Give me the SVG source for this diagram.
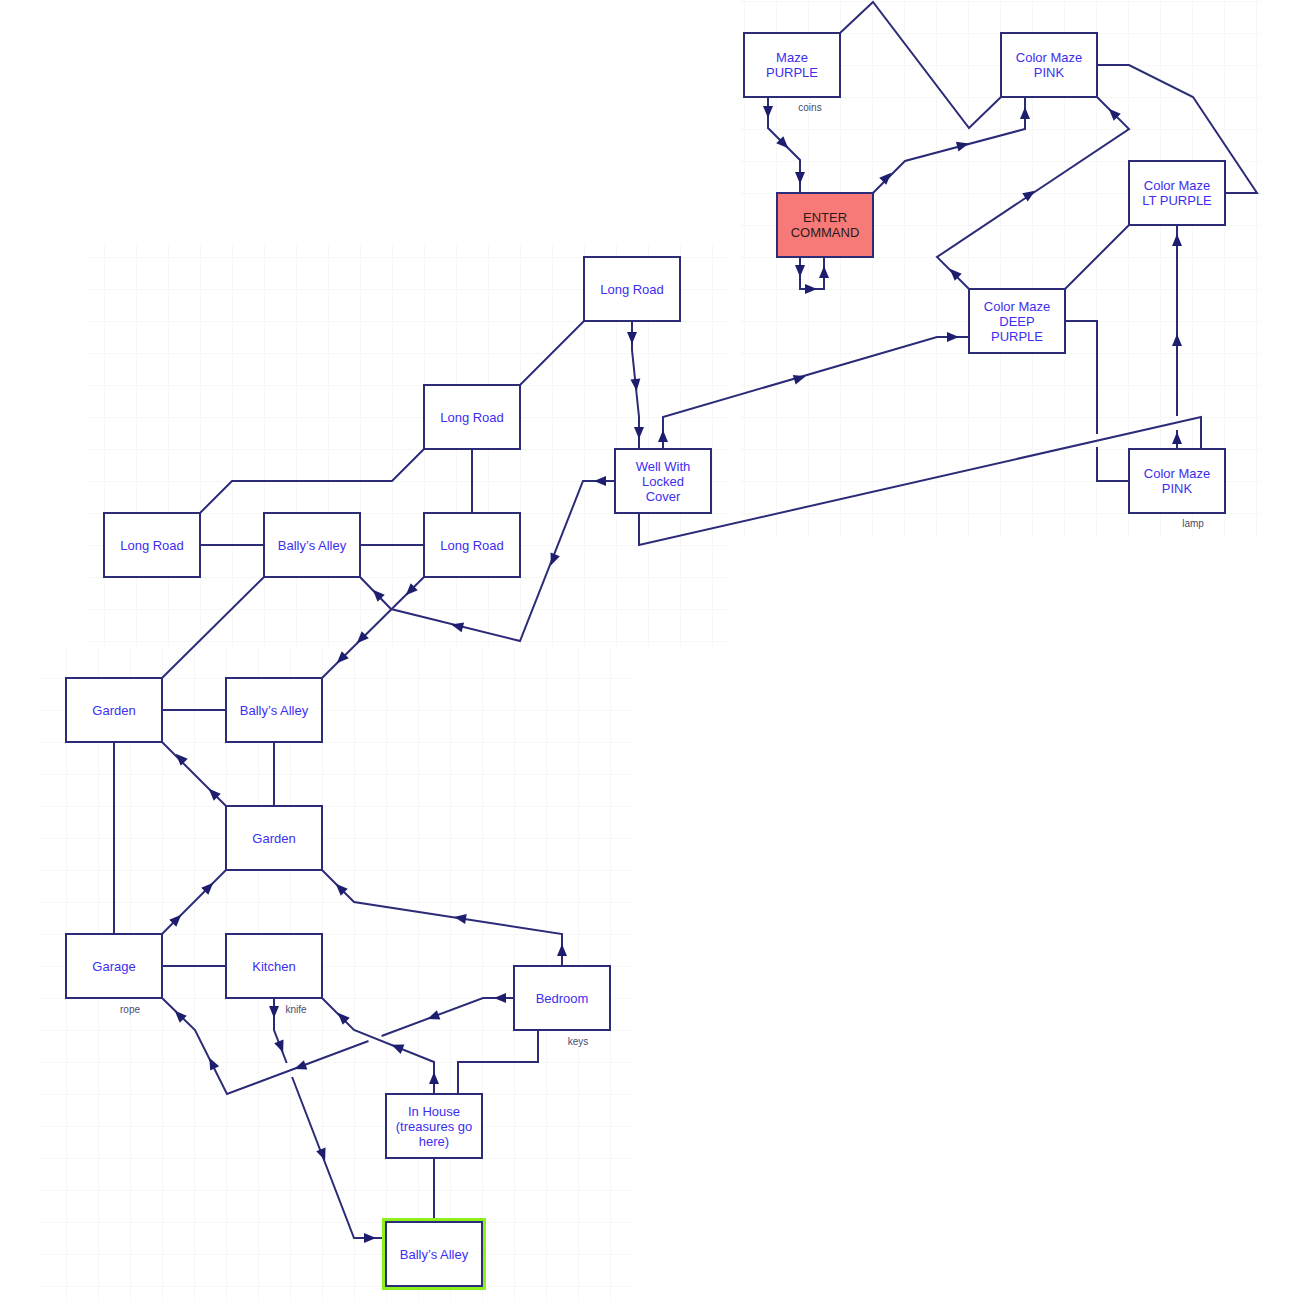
<svg xmlns="http://www.w3.org/2000/svg" xmlns:xlink="http://www.w3.org/1999/xlink" width="1304" height="1308" viewBox="0 0 1304 1308">
<style>
.box{fill:#ffffff;stroke:#2b2b78;stroke-width:2}
.start{fill:#f87a78;stroke:#2b2b78;stroke-width:2}
.t{font-family:"Liberation Sans",Arial,sans-serif;font-size:13px;fill:#3d2ef0;text-anchor:middle}
.td{font-family:"Liberation Sans",Arial,sans-serif;font-size:13px;fill:#2a1a1a;text-anchor:middle}
.lbl{font-family:"Liberation Sans",Arial,sans-serif;font-size:10px;fill:#4a4a6e;text-anchor:middle}
.c{fill:none;stroke:#2b2b78;stroke-width:2;stroke-linejoin:miter}
.a{fill:#1e1e6e}
</style>
<defs>
<pattern id="g1" patternUnits="userSpaceOnUse" x="8" y="1" width="32" height="32"><path d="M32,0 L0,0 L0,32" fill="none" stroke="#efefef" stroke-width="1"/></pattern>
<pattern id="g2" patternUnits="userSpaceOnUse" x="2" y="6" width="32" height="32"><path d="M32,0 L0,0 L0,32" fill="none" stroke="#efefef" stroke-width="1"/></pattern>
<path id="ah" d="M-6,-5 L6,0 L-6,5 Z"/>
</defs>
<rect width="1304" height="1308" fill="#ffffff"/>
<rect x="740" y="0" width="522" height="538" fill="url(#g1)"/>
<rect x="88" y="245" width="640" height="405" fill="url(#g1)"/>
<rect x="40" y="648" width="590" height="652" fill="url(#g2)"/>

<g id="connectors">
<path class="c" d="M840,33 L873,2 L969,128 L1001,97"/>
<path class="c" d="M768,97 L768,128 L800,160 L800,193"/>
<path class="c" d="M873,193 L905,161 L1025,129 L1025,97"/>
<path class="c" d="M800,257 L800,289 L824,289 L824,257"/>
<path class="c" d="M1097,65 L1129,65 L1193,97 L1257,193 L1225,193"/>
<path class="c" d="M969,289 L937,257 L1129,129 L1097,97"/>
<path class="c" d="M1065,289 L1129,225"/>
<path class="c" d="M1177,449 L1177,430 M1177,416 L1177,225"/>
<path class="c" d="M1065,321 L1097,321 L1097,434 M1097,447 L1097,481 L1129,481"/>
<path class="c" d="M639,513 L639,545 L1201,417 L1201,449"/>
<path class="c" d="M663,449 L663,417 L937,337 L969,337"/>
<path class="c" d="M632,321 L632,350 L639,417 L639,449"/>
<path class="c" d="M584,321 L520,385"/>
<path class="c" d="M472,449 L472,513"/>
<path class="c" d="M424,449 L392,481 L232,481 L200,513"/>
<path class="c" d="M200,545 L264,545"/>
<path class="c" d="M360,545 L424,545"/>
<path class="c" d="M264,577 L162,678"/>
<path class="c" d="M615,481 L583,481 L520,641 L391,609 L360,577"/>
<path class="c" d="M424,577 L322,678"/>
<path class="c" d="M162,710 L226,710"/>
<path class="c" d="M114,742 L114,934"/>
<path class="c" d="M274,742 L274,806"/>
<path class="c" d="M226,806 L162,742"/>
<path class="c" d="M162,934 L226,870"/>
<path class="c" d="M162,966 L226,966"/>
<path class="c" d="M562,966 L562,934 L354,902 L322,870"/>
<path class="c" d="M514,998 L483,998 L381.6,1036 M368.5,1041 L227,1094 L195,1030 L162,998"/>
<path class="c" d="M274,998 L274,1030 L286.7,1063 M292.1,1077 L354,1238 L386,1238"/>
<path class="c" d="M434,1094 L434,1062 L354,1030 L322,998"/>
<path class="c" d="M458,1094 L458,1062 L538,1062 L538,1030"/>
<path class="c" d="M434,1158 L434,1222"/>

<g class="a">
<use xlink:href="#ah" transform="translate(768,112) rotate(90)"/>
<use xlink:href="#ah" transform="translate(784,144) rotate(45)"/>
<use xlink:href="#ah" transform="translate(800,178) rotate(90)"/>
<use xlink:href="#ah" transform="translate(887,177) rotate(-45)"/>
<use xlink:href="#ah" transform="translate(963,145) rotate(-15)"/>
<use xlink:href="#ah" transform="translate(1025,113) rotate(-90)"/>
<use xlink:href="#ah" transform="translate(800,271) rotate(90)"/>
<use xlink:href="#ah" transform="translate(811,289) rotate(0)"/>
<use xlink:href="#ah" transform="translate(824,272) rotate(-90)"/>
<use xlink:href="#ah" transform="translate(1113,113) rotate(-135)"/>
<use xlink:href="#ah" transform="translate(1030,194) rotate(-33.7)"/>
<use xlink:href="#ah" transform="translate(954,273) rotate(-135)"/>
<use xlink:href="#ah" transform="translate(1177,240) rotate(-90)"/>
<use xlink:href="#ah" transform="translate(1177,340) rotate(-90)"/>
<use xlink:href="#ah" transform="translate(1177,438) rotate(-90)"/>
<use xlink:href="#ah" transform="translate(663,436) rotate(-90)"/>
<use xlink:href="#ah" transform="translate(800,378) rotate(-16.3)"/>
<use xlink:href="#ah" transform="translate(953,337) rotate(0)"/>
<use xlink:href="#ah" transform="translate(632,338) rotate(90)"/>
<use xlink:href="#ah" transform="translate(636,385) rotate(84)"/>
<use xlink:href="#ah" transform="translate(639,433) rotate(90)"/>
<use xlink:href="#ah" transform="translate(600,481) rotate(180)"/>
<use xlink:href="#ah" transform="translate(553,560) rotate(111.5)"/>
<use xlink:href="#ah" transform="translate(457,626) rotate(-166)"/>
<use xlink:href="#ah" transform="translate(377,594) rotate(-134)"/>
<use xlink:href="#ah" transform="translate(410,591) rotate(135)"/>
<use xlink:href="#ah" transform="translate(361,639) rotate(135)"/>
<use xlink:href="#ah" transform="translate(341,659) rotate(135)"/>
<use xlink:href="#ah" transform="translate(213,793) rotate(-135)"/>
<use xlink:href="#ah" transform="translate(180,758) rotate(-135)"/>
<use xlink:href="#ah" transform="translate(177,919) rotate(-45)"/>
<use xlink:href="#ah" transform="translate(209,887) rotate(-45)"/>
<use xlink:href="#ah" transform="translate(562,950) rotate(-90)"/>
<use xlink:href="#ah" transform="translate(460,918) rotate(-171)"/>
<use xlink:href="#ah" transform="translate(340,888) rotate(-135)"/>
<use xlink:href="#ah" transform="translate(500,998) rotate(180)"/>
<use xlink:href="#ah" transform="translate(433,1017) rotate(159.4)"/>
<use xlink:href="#ah" transform="translate(300,1067) rotate(159.4)"/>
<use xlink:href="#ah" transform="translate(212,1063) rotate(-116.6)"/>
<use xlink:href="#ah" transform="translate(179,1015) rotate(-135)"/>
<use xlink:href="#ah" transform="translate(274,1012) rotate(90)"/>
<use xlink:href="#ah" transform="translate(281,1047) rotate(69)"/>
<use xlink:href="#ah" transform="translate(323,1155) rotate(69)"/>
<use xlink:href="#ah" transform="translate(370,1238) rotate(0)"/>
<use xlink:href="#ah" transform="translate(434,1078) rotate(-90)"/>
<use xlink:href="#ah" transform="translate(397,1047) rotate(-158)"/>
<use xlink:href="#ah" transform="translate(342,1017) rotate(-135)"/>
</g>
</g>

<g id="n1"><rect class="box" x="744" y="33" width="96" height="64"/><text class="t" x="792" y="62">Maze</text><text class="t" x="792" y="77">PURPLE</text><text class="lbl" x="810" y="111">coins</text></g>
<g id="n2"><rect class="box" x="1001" y="33" width="96" height="64"/><text class="t" x="1049" y="62">Color Maze</text><text class="t" x="1049" y="77">PINK</text></g>
<g id="n3"><rect class="start" x="777" y="193" width="96" height="64"/><text class="td" x="825" y="222">ENTER</text><text class="td" x="825" y="237">COMMAND</text></g>
<g id="n4"><rect class="box" x="1129" y="161" width="96" height="64"/><text class="t" x="1177" y="190">Color Maze</text><text class="t" x="1177" y="205">LT PURPLE</text></g>
<g id="n5"><rect class="box" x="969" y="289" width="96" height="64"/><text class="t" x="1017" y="311">Color Maze</text><text class="t" x="1017" y="326">DEEP</text><text class="t" x="1017" y="341">PURPLE</text></g>
<g id="n6"><rect class="box" x="1129" y="449" width="96" height="64"/><text class="t" x="1177" y="478">Color Maze</text><text class="t" x="1177" y="493">PINK</text><text class="lbl" x="1193" y="527">lamp</text></g>
<g id="n7"><rect class="box" x="584" y="257" width="96" height="64"/><text class="t" x="632" y="294">Long Road</text></g>
<g id="n8"><rect class="box" x="424" y="385" width="96" height="64"/><text class="t" x="472" y="422">Long Road</text></g>
<g id="n9"><rect class="box" x="615" y="449" width="96" height="64"/><text class="t" x="663" y="471">Well With</text><text class="t" x="663" y="486">Locked</text><text class="t" x="663" y="501">Cover</text></g>
<g id="n10"><rect class="box" x="104" y="513" width="96" height="64"/><text class="t" x="152" y="550">Long Road</text></g>
<g id="n11"><rect class="box" x="264" y="513" width="96" height="64"/><text class="t" x="312" y="550">Bally’s Alley</text></g>
<g id="n12"><rect class="box" x="424" y="513" width="96" height="64"/><text class="t" x="472" y="550">Long Road</text></g>
<g id="n13"><rect class="box" x="66" y="678" width="96" height="64"/><text class="t" x="114" y="715">Garden</text></g>
<g id="n14"><rect class="box" x="226" y="678" width="96" height="64"/><text class="t" x="274" y="715">Bally’s Alley</text></g>
<g id="n15"><rect class="box" x="226" y="806" width="96" height="64"/><text class="t" x="274" y="843">Garden</text></g>
<g id="n16"><rect class="box" x="66" y="934" width="96" height="64"/><text class="t" x="114" y="971">Garage</text><text class="lbl" x="130" y="1013">rope</text></g>
<g id="n17"><rect class="box" x="226" y="934" width="96" height="64"/><text class="t" x="274" y="971">Kitchen</text><text class="lbl" x="296" y="1013">knife</text></g>
<g id="n18"><rect class="box" x="514" y="966" width="96" height="64"/><text class="t" x="562" y="1003">Bedroom</text><text class="lbl" x="578" y="1045">keys</text></g>
<g id="n19"><rect class="box" x="386" y="1094" width="96" height="64"/><text class="t" x="434" y="1116">In House</text><text class="t" x="434" y="1131">(treasures go</text><text class="t" x="434" y="1146">here)</text></g>
<g id="n20"><rect x="384" y="1220" width="100" height="68" fill="none" stroke="#8ef01a" stroke-width="4"/><rect class="box" x="386" y="1222" width="96" height="64"/><text class="t" x="434" y="1259">Bally’s Alley</text></g>
</svg>
